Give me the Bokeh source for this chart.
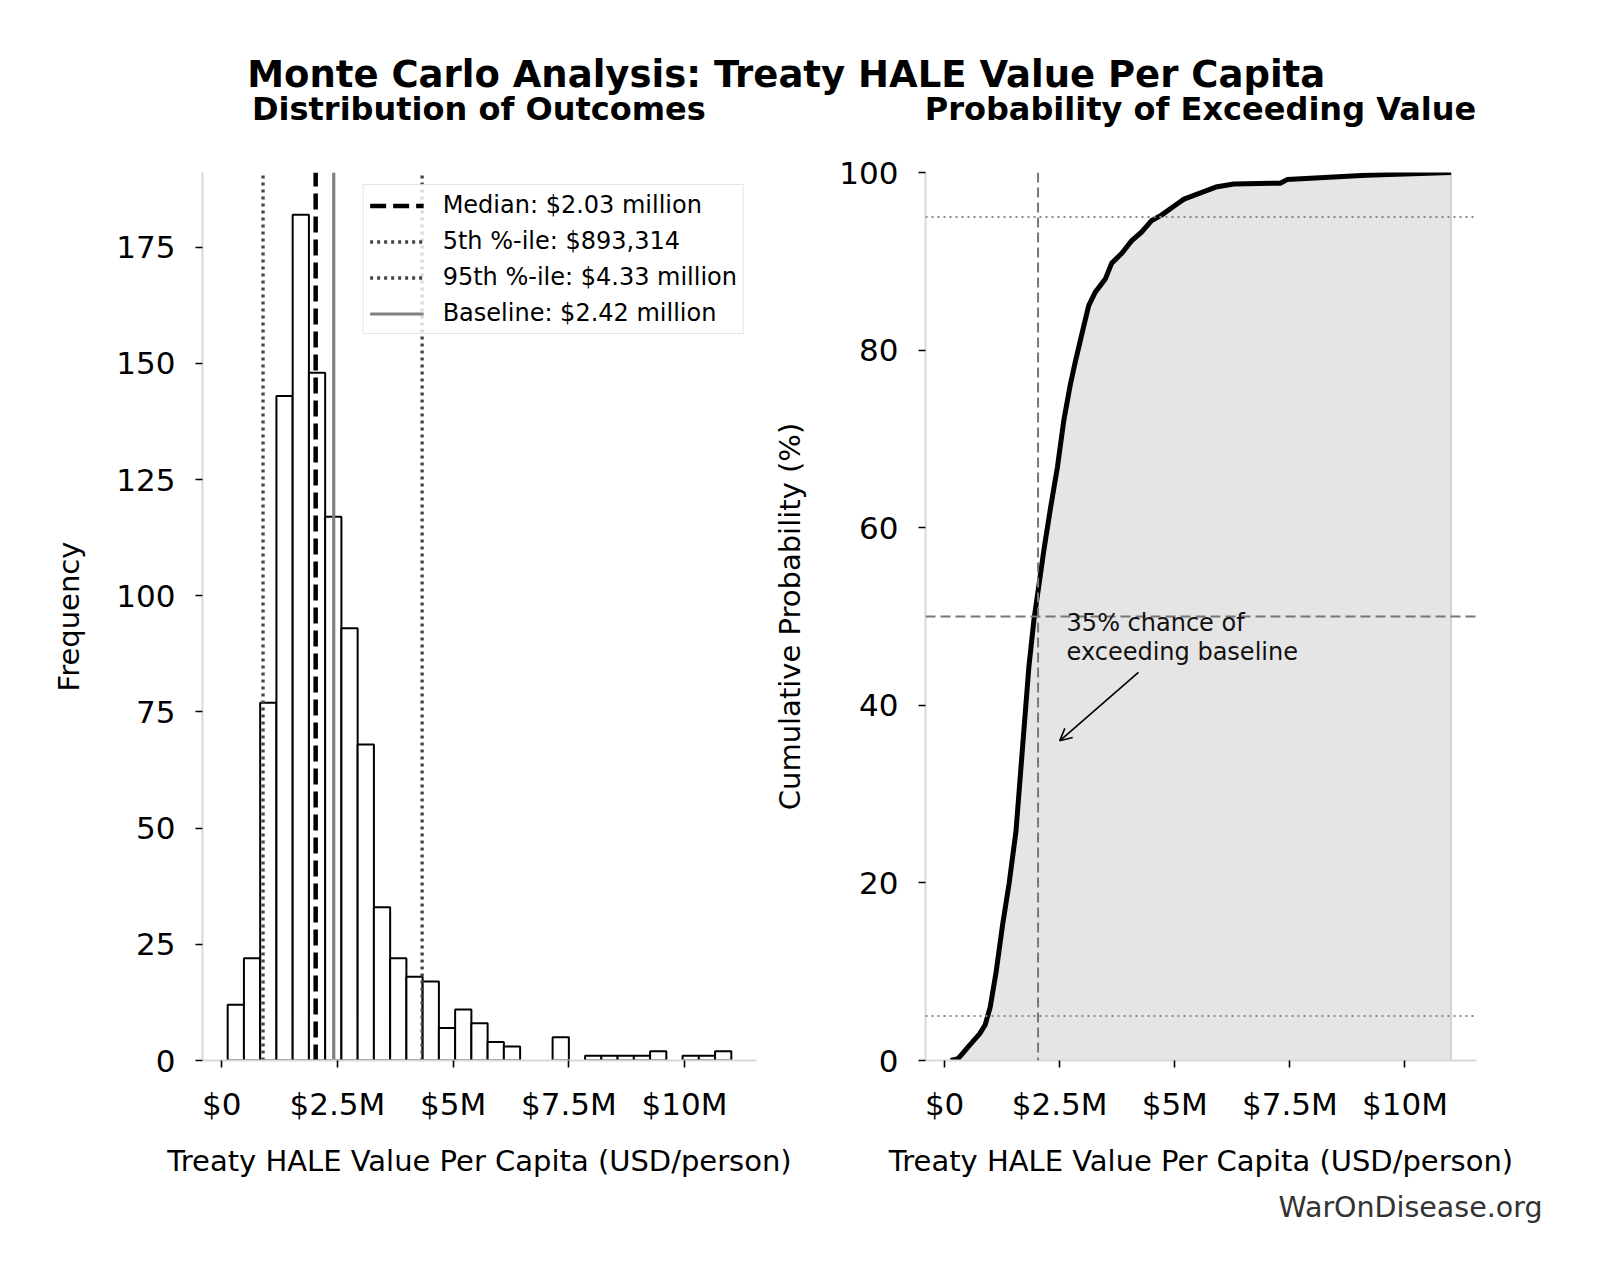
from bokeh.plotting import figure
from bokeh.layouts import column, row
from bokeh.models import (Range1d, FixedTicker, CustomJSTickFormatter, Label, Legend,
                          LegendItem, Span, Arrow, OpenHead)
from bokeh.embed import file_html
from bokeh.resources import INLINE

FONT = "DejaVu Sans"

# ---------------- data ----------------
title_text = "Monte Carlo Analysis: Treaty HALE Value Per Capita"
left_title = "Distribution of Outcomes"
right_title = "Probability of Exceeding Value"
x_label = "Treaty HALE Value Per Capita (USD/person)"
left_y_label = "Frequency"
right_y_label = "Cumulative Probability (%)"

# histogram (values in $ millions)
hist_min = 0.129
hist_max = 11.01
hist_counts = [12, 22, 77, 143, 182, 148, 117, 93, 68, 33, 22, 18, 17, 7, 11, 8,
               4, 3, 0, 0, 5, 0, 1, 1, 1, 1, 2, 0, 1, 1, 2]

median_val = 2.03
p5_val = 0.893314
p95_val = 4.33
baseline_val = 2.42
legend_labels = ["Median: $2.03 million", "5th %-ile: $893,314",
                 "95th %-ile: $4.33 million", "Baseline: $2.42 million"]

# cumulative distribution ($ millions, %)
cdf_x = [0.13, 0.29, 0.36, 0.54, 0.76, 0.88, 0.99, 1.12, 1.26, 1.40, 1.55, 1.63, 1.73,
         1.83, 1.94, 2.05, 2.16, 2.30, 2.45, 2.59, 2.73, 2.84, 2.99, 3.13, 3.27, 3.49,
         3.63, 3.85, 4.06, 4.28, 4.50, 4.71, 4.98, 5.20, 5.56, 5.92, 6.28, 7.29, 7.44,
         9.16, 11.0]
cdf_y = [0.0, 0.2, 0.6, 1.7, 3.0, 4.0, 6.0, 10.0, 15.3, 19.9, 25.8, 31.1, 37.7,
         44.3, 49.6, 53.6, 57.6, 62.2, 66.8, 72.1, 76.1, 78.7, 82.0, 85.0, 86.5, 88.0,
         89.8, 90.9, 92.3, 93.3, 94.6, 95.2, 96.2, 97.0, 97.7, 98.4, 98.7, 98.8, 99.2,
         99.7, 100.0]

x_ticks = [0, 2.5, 5, 7.5, 10]
hist_y_ticks = [0, 25, 50, 75, 100, 125, 150, 175]
cdf_y_ticks = [0, 20, 40, 60, 80, 100]
ref_levels = [5, 95]
mid_level = 50
annotation_text = "35% chance of\nexceeding baseline"
annot_text_x, annot_text_y = 2.65, 50.9
annot_arrow_from = (4.21, 43.7)
annot_arrow_to = (2.5, 36.0)
watermark = "WarOnDisease.org"

# ---------------- derived ----------------
nb = len(hist_counts)
bw = (hist_max - hist_min) / nb
edges = [hist_min + i * bw for i in range(nb + 1)]
bar_left = [edges[i] for i in range(nb) if hist_counts[i] > 0]
bar_right = [edges[i + 1] for i in range(nb) if hist_counts[i] > 0]
bar_top = [c for c in hist_counts if c > 0]

span_x = hist_max - hist_min
x_lo, x_hi = hist_min - 0.05 * span_x, hist_max + 0.05 * span_x
hist_ytop = max(hist_counts) * 1.05

fmt = CustomJSTickFormatter(code="return tick == 0 ? '$0' : '$' + tick + 'M';")

PLOT_H = 1045          # rows of plots: y 140 .. 1185
BOTTOM = 1185 - 1060   # frame bottom at y = 1060


def style(p):
    p.xgrid.visible = False
    p.ygrid.visible = False
    p.outline_line_color = None
    p.background_fill_color = "white"
    for ax in (p.xaxis[0], p.yaxis[0]):
        ax.axis_line_color = "#d9d9d9"
        ax.axis_line_width = 2
        ax.major_tick_line_color = "black"
        ax.major_tick_line_width = 1.6
        ax.major_tick_out = 7
        ax.major_tick_in = 0
        ax.minor_tick_line_color = None
        ax.major_label_text_font = FONT
        ax.major_label_text_font_size = "31px"
        ax.major_label_text_color = "black"
        ax.axis_label_text_font = FONT
        ax.axis_label_text_font_size = "29px"
        ax.axis_label_text_font_style = "normal"
        ax.axis_label_text_color = "black"
    p.xaxis[0].major_label_standoff = 18
    p.yaxis[0].major_label_standoff = 20
    p.xaxis[0].axis_label_standoff = 19
    p.yaxis[0].axis_label_standoff = 29


# ---------------- header ----------------
head = figure(width=1601, height=140, x_range=Range1d(0, 1601), y_range=Range1d(140, 0),
              toolbar_location=None, output_backend="svg", min_border=0,
              x_axis_location=None, y_axis_location=None)
head.outline_line_color = None
head.xgrid.visible = False
head.ygrid.visible = False
head.add_layout(Label(x=785.7, y=73.5, text=title_text, text_font=FONT, text_font_size="37px",
                      text_font_style="bold", text_color="black", text_align="center",
                      text_baseline="middle"))
head.add_layout(Label(x=478.4, y=108.5, text=left_title, text_font=FONT, text_font_size="32px",
                      text_font_style="bold", text_color="black", text_align="center",
                      text_baseline="middle"))
head.add_layout(Label(x=1200, y=108.5, text=right_title, text_font=FONT, text_font_size="32px",
                      text_font_style="bold", text_color="black", text_align="center",
                      text_baseline="middle"))

# ---------------- left: histogram ----------------
p1 = figure(width=800, height=PLOT_H, x_range=Range1d(x_lo, x_hi), y_range=Range1d(0, hist_ytop),
            toolbar_location=None, output_backend="svg",
            min_border_left=202, min_border_right=44, min_border_top=32, min_border_bottom=BOTTOM)
style(p1)
p1.border_fill_color = "white"
p1.yaxis[0].axis_label_standoff = 27
p1.quad(left=bar_left, right=bar_right, bottom=0, top=bar_top, fill_color="white",
        line_color="black", line_width=2)
r_med = p1.line([median_val, median_val], [0, hist_ytop], line_color="black", line_width=4.5,
                line_dash="16 7")
r_p5 = p1.line([p5_val, p5_val], [0, hist_ytop], line_color="#444444", line_width=3.3,
               line_dash="3 4")
r_p95 = p1.line([p95_val, p95_val], [0, hist_ytop], line_color="#444444", line_width=3.3,
                line_dash="3 4")
r_base = p1.line([baseline_val, baseline_val], [0, hist_ytop], line_color="#808080",
                 line_width=3.2)
p1.xaxis[0].ticker = FixedTicker(ticks=x_ticks)
p1.xaxis[0].formatter = fmt
p1.yaxis[0].ticker = FixedTicker(ticks=hist_y_ticks)
p1.xaxis[0].axis_label = x_label
p1.yaxis[0].axis_label = left_y_label

legend = Legend(items=[LegendItem(label=legend_labels[0], renderers=[r_med]),
                       LegendItem(label=legend_labels[1], renderers=[r_p5]),
                       LegendItem(label=legend_labels[2], renderers=[r_p95]),
                       LegendItem(label=legend_labels[3], renderers=[r_base])],
                location="top_right")
legend.label_text_font = FONT
legend.label_text_font_size = "24px"
legend.label_text_color = "black"
legend.glyph_width = 54
legend.glyph_height = 25
legend.label_height = 25
legend.label_standoff = 19
legend.spacing = 8
legend.padding = 6
legend.margin = 12
legend.border_line_color = "#cccccc"
legend.border_line_width = 1.5
legend.background_fill_alpha = 0.8
p1.add_layout(legend)

# ---------------- right: CDF ----------------
p2 = figure(width=831, height=PLOT_H, x_range=Range1d(x_lo, x_hi), y_range=Range1d(0, 100),
            toolbar_location=None, output_backend="svg",
            min_border_left=152, min_border_right=125, min_border_top=32, min_border_bottom=BOTTOM)
style(p2)
p2.border_fill_color = None
p2.margin = (0, 0, 0, -30)
p2.varea(x=cdf_x, y1=0, y2=cdf_y, fill_color="#e5e5e5")
p2.line([cdf_x[-1], cdf_x[-1]], [0, cdf_y[-1]], line_color="#d2d2d2", line_width=2)
for lv in ref_levels:
    p2.add_layout(Span(location=lv, dimension="width", line_color="#888888", line_width=2,
                       line_dash="2 4"))
p2.add_layout(Span(location=mid_level, dimension="width", line_color="#777777", line_width=2,
                   line_dash="10 5"))
p2.add_layout(Span(location=median_val, dimension="height", line_color="#777777", line_width=2,
                   line_dash="10 5"))
p2.line(cdf_x, cdf_y, line_color="black", line_width=5)
p2.xaxis[0].ticker = FixedTicker(ticks=x_ticks)
p2.xaxis[0].formatter = fmt
p2.yaxis[0].ticker = FixedTicker(ticks=cdf_y_ticks)
p2.xaxis[0].axis_label = x_label
p2.yaxis[0].axis_label = right_y_label
p2.add_layout(Label(x=annot_text_x, y=annot_text_y, text=annotation_text, text_font=FONT,
                    text_font_size="24px", text_color="#111111", text_align="left",
                    text_baseline="top", text_line_height=1.05))
p2.add_layout(Arrow(x_start=annot_arrow_from[0], y_start=annot_arrow_from[1],
                    x_end=annot_arrow_to[0], y_end=annot_arrow_to[1], line_width=1.6,
                    line_color="black",
                    end=OpenHead(size=12, line_width=1.6, line_color="black")))

# ---------------- footer (watermark) ----------------
foot = figure(width=1601, height=95, x_range=Range1d(0, 1601), y_range=Range1d(95, 0),
              toolbar_location=None, output_backend="svg", min_border=0,
              x_axis_location=None, y_axis_location=None)
foot.outline_line_color = None
foot.xgrid.visible = False
foot.ygrid.visible = False
foot.add_layout(Label(x=1542, y=22, text=watermark, text_font=FONT, text_font_size="28.5px",
                      text_color="#333333", text_align="right", text_baseline="middle"))

layout = column(head, row(p1, p2, spacing=0), foot, spacing=0)
open("out.html", "w").write(file_html(layout, INLINE))
